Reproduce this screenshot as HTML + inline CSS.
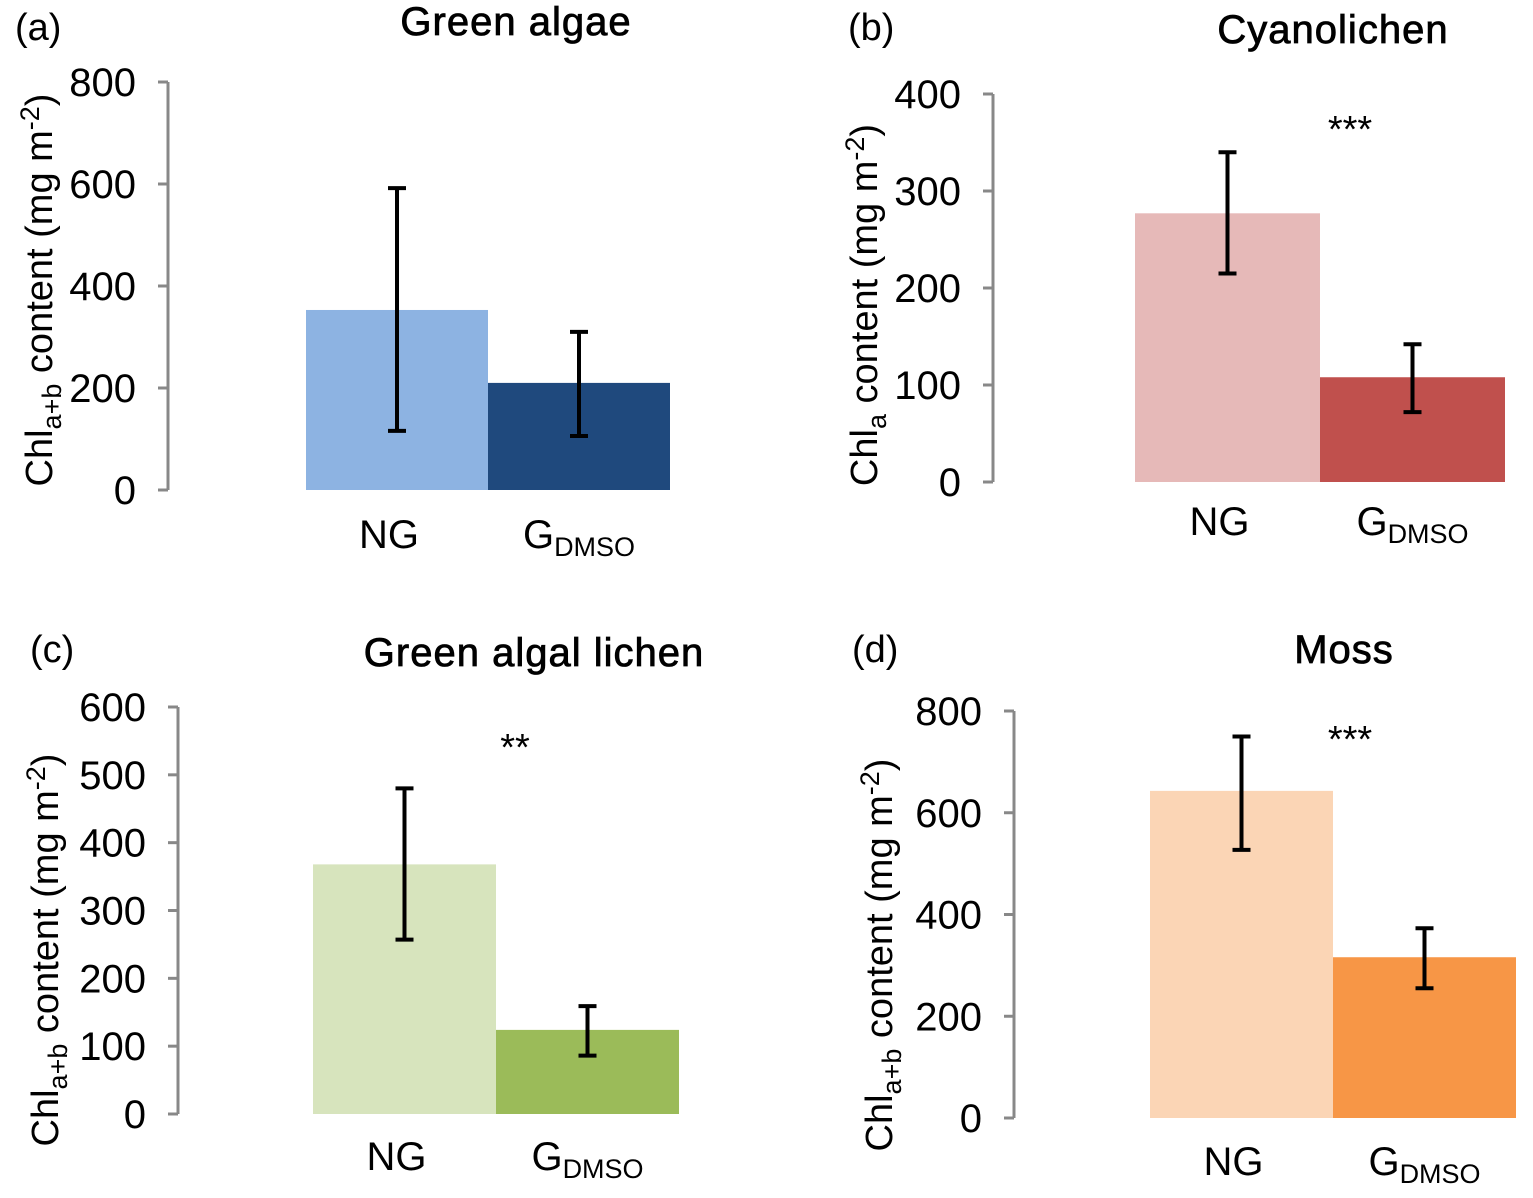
<!DOCTYPE html>
<html><head><meta charset="utf-8"><style>
body{margin:0;background:#fff}
svg{display:block;font-family:"Liberation Sans",Arial,sans-serif}
</style></head><body>
<svg id="s" width="1533" height="1198" viewBox="0 0 1533 1198"></svg>
<script>
const categories=["NG","GDMSO"];
const titles=["Green algae","Cyanolichen","Green algal lichen","Moss"];
const panelLabels=["(a)","(b)","(c)","(d)"];
const meansA=[353,210], lowA=[116,106], highA=[592,310];
const meansB=[277,108], lowB=[215,72], highB=[340,142];
const meansC=[368,124], lowC=[257,86], highC=[480,159];
const meansD=[643,316], lowD=[527,255], highD=[750,373];
const ticksA=[0,200,400,600,800], ticksB=[0,100,200,300,400], ticksC=[0,100,200,300,400,500,600], ticksD=[0,200,400,600,800];
const sigs=["","***","**","***"];
const S=document.getElementById('s');const NS="http://www.w3.org/2000/svg";
function el(t,a,p){const e=document.createElementNS(NS,t);for(const k in a)e.setAttribute(k,a[k]);(p||S).appendChild(e);return e;}
const panels=[
{m:meansA,lo:lowA,hi:highA,t:ticksA,ax:168,y0:490,y1:82,bx:306,bw:182,cols:["#8db3e2","#1f497d"],sub:"a+b",ylx:52,yly:290,tx:516,ty:35,px:15,py:40,xly:548,sy:0},
{m:meansB,lo:lowB,hi:highB,t:ticksB,ax:993,y0:482,y1:94,bx:1135,bw:185,cols:["#e6b9b8","#c0504d"],sub:"a",ylx:877,yly:305,tx:1333,ty:43,px:848,py:40,xly:535,sy:130},
{m:meansC,lo:lowC,hi:highC,t:ticksC,ax:178,y0:1114,y1:707,bx:313,bw:183,cols:["#d7e4bd","#9bbb59"],sub:"a+b",ylx:58,yly:950,tx:534,ty:666,px:30,py:662,xly:1170,sy:748},
{m:meansD,lo:lowD,hi:highD,t:ticksD,ax:1014,y0:1118,y1:711,bx:1150,bw:183,cols:["#fbd5b5","#f79646"],sub:"a+b",ylx:892,yly:955,tx:1344,ty:663,px:852,py:662,xly:1175,sy:740}];
panels.forEach((p,i)=>{
 const g=el('g',{});
 
 
 const max=p.t[p.t.length-1];
 const y=v=>p.y0-(v/max)*(p.y0-p.y1);
 const ax=el('line',{x1:p.ax,x2:p.ax,y1:y(max),y2:y(0),stroke:"#888",'stroke-width':3},g);
 
 
 p.t.forEach(v=>{
  el('line',{x1:p.ax-10,x2:p.ax,y1:y(v),y2:y(v),stroke:"#888",'stroke-width':3},g);
  const tl=el('text',{x:p.ax-32,y:y(v)+14,'text-anchor':'end','font-size':40,fill:"#000"},g);
  tl.textContent=v;
  
  
 });
 p.m.forEach((v,j)=>{
  const x=p.bx+j*p.bw;
  const b=el('rect',{x:x,y:y(v),width:p.bw,height:y(0)-y(v),fill:p.cols[j]},g);
  
  
  const cx=x+p.bw/2;
  const e=el('path',{d:`M${cx} ${y(p.hi[j])}V${y(p.lo[j])}M${cx-9} ${y(p.hi[j])}H${cx+9}M${cx-9} ${y(p.lo[j])}H${cx+9}`,stroke:"#000",'stroke-width':4,fill:"none"},g);
  
  
  const xl=el('text',{x:cx+(j?0:-8),y:p.xly,'text-anchor':'middle','font-size':40},g);
  
  
  if(j===0)xl.textContent="NG";else xl.innerHTML='G<tspan font-size="27" dy="8">DMSO</tspan>';
 });
 const t=el('text',{x:p.tx,y:p.ty,'text-anchor':'middle','font-size':40,'letter-spacing':1,stroke:'#000','stroke-width':0.8},g);
 t.textContent=titles[i];
 
 
 const pl=el('text',{x:p.px,y:p.py,'font-size':38},g);
 pl.textContent=panelLabels[i];
 
 
 if(sigs[i]){const s=el('text',{x:(i===2?515:1350),y:p.sy+12,'text-anchor':'middle','font-size':38},g);
  s.textContent=sigs[i];
  
  }
 const yl=el('text',{x:0,y:0,'text-anchor':'middle','font-size':38,transform:`translate(${p.ylx},${p.yly}) rotate(-90)`},g);
 yl.innerHTML=`Chl<tspan font-size="27" dy="9">${p.sub}</tspan><tspan dy="-9"> content (mg m</tspan><tspan font-size="27" dy="-13">-2</tspan><tspan dy="13">)</tspan>`;
 
 
});
</script>
</body></html>
